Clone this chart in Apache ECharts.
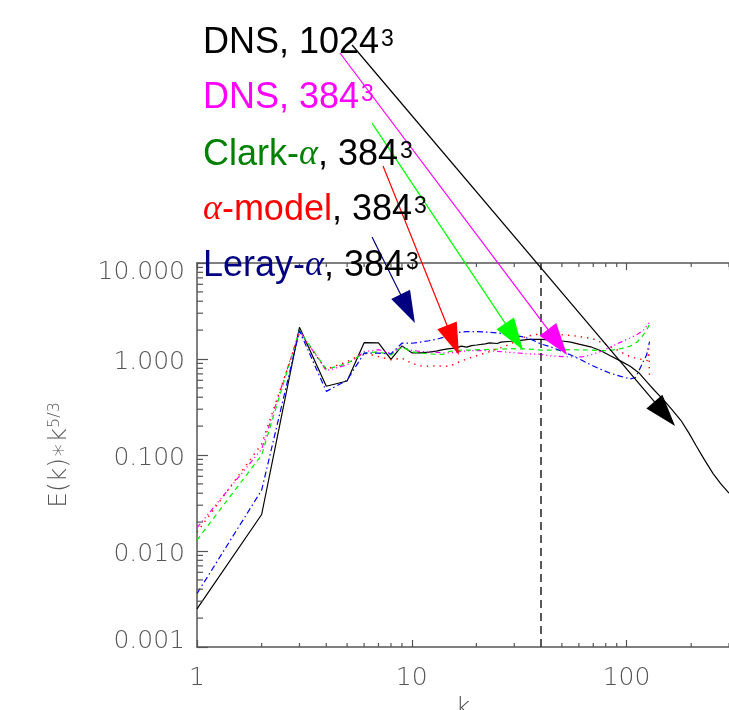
<!DOCTYPE html>
<html><head><meta charset="utf-8">
<script src="https://cdn.jsdelivr.net/npm/echarts@6/dist/echarts.min.js"></script>
<style>html,body{margin:0;padding:0;background:#fff}#c{width:729px;height:710px}</style>
</head><body><div id="c"></div>
<script>
// ---- data (k, E(k)*k^(5/3)) ----
const dns1024K = [1,2,3,4,5,6,7,8,9,10,11,12,13,14,15,16,17,18,19,20,22,23,25,26,29,32,35,40,44,50,55,60,68,76,84,94,104,114,124,135,148,162,179,195,211,230,253,275,300];
const dns1024V = [0.0025,0.024,2.14,0.52,0.59,1.48,1.47,0.99,1.37,1.16,1.16,1.18,1.21,1.25,1.28,1.3,1.36,1.33,1.38,1.40,1.44,1.47,1.45,1.5,1.53,1.56,1.6,1.6,1.58,1.54,1.5,1.43,1.34,1.22,1.08,0.95,0.84,0.72,0.58,0.47,0.38,0.3,0.23,0.17,0.125,0.09,0.064,0.05,0.04];

const dns384K = [1,2,3,4,5,6,7,8,9,10,11,12,13,14,15,17,19,23,29,35,40,44,55,62,68,76,84,94,104,112,120,126,128];
const dns384V = [0.0175,0.115,1.97,0.755,0.87,1.19,1.25,1.15,1.33,1.23,1.2,1.18,1.17,1.16,1.16,1.2,1.22,1.22,1.17,1.13,1.12,1.08,1.05,1.05,1.1,1.2,1.33,1.5,1.66,1.8,2.0,2.3,2.4];

const clarkK = [1,2,3,4,5,6,7,8,9,10,11,12,13,14,15,17,19,23,29,35,40,44,55,68,76,84,94,104,112,119,124,128];
const clarkV = [0.013,0.1,1.97,0.78,0.9,1.15,1.19,1.1,1.33,1.19,1.15,1.13,1.12,1.12,1.2,1.24,1.24,1.26,1.28,1.27,1.24,1.24,1.25,1.24,1.22,1.23,1.28,1.36,1.5,1.75,2.0,2.3];

const alphaK = [1,2,3,4,5,6,7,8,9,10,11,12,13,14,15,16,18,20,23,25,28,31,34,38,45,52,60,70,80,90,100,110,120,126,127,128];
const alphaV = [0.0157,0.13,1.85,0.78,0.94,1.15,1.06,0.98,1.02,0.9,0.85,0.84,0.85,0.84,0.84,0.9,1.0,1.08,1.19,1.27,1.4,1.55,1.72,1.8,1.8,1.78,1.72,1.62,1.42,1.25,1.1,1.02,0.98,0.96,1.28,0.62];

const lerayK = [1,2,3,4,5,6,7,8,9,10,11,12,13,14,15,16,18,20,23,26,29,33,36,40,44,50,55,62,68,76,84,94,104,110,113,118,124,127,128];
const lerayV = [0.0036,0.043,1.97,0.46,0.6,1.15,1.15,1.13,1.46,1.46,1.5,1.55,1.6,1.68,1.8,1.88,1.93,1.93,1.9,1.85,1.78,1.7,1.6,1.43,1.35,1.2,1.1,0.97,0.87,0.78,0.71,0.66,0.62,0.64,0.72,0.88,1.1,1.4,1.52];

// annotation arrows (data coordinates: from label to curve)
const arrowFromK = [5.27, 4.63, 6.53, 7.35, 6.53];
const arrowFromV = [1866, 1540, 287, 102.4, 18.66];
const arrowToK   = [150.6, 47.7, 29.96, 15.56, 9.58];
const arrowToV   = [0.2686, 1.496, 1.707, 1.570, 3.342];

const cutoffK = 40;
const xMinorTicks = [2,3,4,5,6,7,8,9,20,30,40,50,60,70,80,90,200,300];
const yMinorTicks = [0.002,0.003,0.004,0.005,0.006,0.007,0.008,0.009,0.02,0.03,0.04,0.05,0.06,0.07,0.08,0.09,0.2,0.3,0.4,0.5,0.6,0.7,0.8,0.9,2,3,4,5,6,7,8,9];

const X_MIN = 1, X_MAX = 300, Y_MIN = 0.001, Y_MAX = 10;

// ---- build ----
const pairs = (ks, vs) => ks.map((k, i) => [k, vs[i]]);
const AX = '#555';
const tickFont = 'DejaVu Sans';

const tickData = [];
xMinorTicks.forEach(v => { tickData.push([v, Y_MIN, 0]); tickData.push([v, Y_MAX, 1]); });
yMinorTicks.forEach(v => { tickData.push([X_MIN, v, 2]); });

const arrowColors = ['#000000','#ff00ff','#00ff00','#ff0000','#000080'];
const arrowData = arrowFromK.map((k, i) => ({
  coords: [[k, arrowFromV[i]], [arrowToK[i], arrowToV[i]]],
  lineStyle: { color: arrowColors[i] }
}));

const chart = echarts.init(document.getElementById('c'), null, { renderer: 'canvas' });

const tok = (fill, extra) => Object.assign({ fontSize: 36, fontFamily: 'Liberation Sans', fill: fill, color: fill }, extra || {});
const richLegend = {
  k: tok('#000'),
  m: tok('#ff00ff'),
  g: tok('#008000'),
  r: tok('#ff0000'),
  n: tok('#000080'),
  ga: tok('#008000', { fontFamily: 'Liberation Serif', fontStyle: 'italic' }),
  ra: tok('#ff0000', { fontFamily: 'Liberation Serif', fontStyle: 'italic' }),
  na: tok('#000080', { fontFamily: 'Liberation Serif', fontStyle: 'italic' }),
  sk: tok('#000', { fontSize: 23, verticalAlign: 'top', padding: [3, 0, 0, 2] }),
  sm: tok('#ff00ff', { fontSize: 23, verticalAlign: 'top', padding: [3, 0, 0, 2] })
};
const legendTexts = [
  '{k|DNS, 1024}{sk|3}',
  '{m|DNS, 384}{sm|3}',
  '{g|Clark-}{ga|α}{k|, 384}{sk|3}',
  '{ra|α}{r|-model}{k|, 384}{sk|3}',
  '{n|Leray-}{na|α}{k|, 384}{sk|3}'
];
const legendTops = [25, 80, 137, 192, 248];

const yLabelFmt = v => {
  const s = (+v).toFixed(3);
  if (Math.abs(v - Y_MAX) < 1e-9) return '{top|' + s + '}';
  if (Math.abs(v - Y_MIN) < 1e-12) return '{bot|' + s + '}';
  return '{mid|' + s + '}';
};
const lblStyle = { fontSize: 25, fontFamily: tickFont, fontWeight: 200, color: AX };

const option = {
  animation: false,
  backgroundColor: '#fff',
  grid: { left: 197, right: 0, top: 263, bottom: 63, containLabel: false, outerBoundsMode: 'none' },
  xAxis: [
    {
      type: 'log', logBase: 10, min: X_MIN, max: X_MAX, position: 'bottom',
      name: 'k', nameLocation: 'middle', nameGap: 47,
      nameTextStyle: { fontSize: 25, fontFamily: tickFont, fontWeight: 200, color: AX },
      axisLine: { show: true, lineStyle: { color: AX, width: 1.5 } },
      axisTick: { show: true, inside: true, length: 7, lineStyle: { color: AX, width: 1.2 } },
      axisLabel: { show: true, margin: 19, showMaxLabel: false, formatter: v => String(Math.round(v)), ...lblStyle },
      splitLine: { show: false }
    },
    {
      type: 'log', logBase: 10, min: X_MIN, max: X_MAX, position: 'top',
      axisLine: { show: true, lineStyle: { color: AX, width: 1.5 } },
      axisTick: { show: true, inside: true, length: 7, lineStyle: { color: AX, width: 1.2 } },
      axisLabel: { show: false },
      splitLine: { show: false }
    }
  ],
  yAxis: {
    type: 'log', logBase: 10, min: Y_MIN, max: Y_MAX,
    name: '{a|E(k)∗k}{b|5/3}', nameLocation: 'middle', nameGap: 125, nameRotate: 90,
    nameTextStyle: {
      rich: {
        a: { fontSize: 25, fontFamily: tickFont, fontWeight: 200, color: AX },
        b: { fontSize: 16, fontFamily: tickFont, fontWeight: 200, color: AX, verticalAlign: 'top' }
      }
    },
    axisLine: { show: true, lineStyle: { color: AX, width: 1.5 } },
    axisTick: { show: true, inside: true, length: 11, lineStyle: { color: AX, width: 1.2 } },
    axisLabel: {
      show: true, margin: 12, formatter: yLabelFmt,
      rich: {
        top: { ...lblStyle, padding: [18, 0, 0, 0] },
        mid: { ...lblStyle, padding: [6, 0, 0, 0] },
        bot: { ...lblStyle, padding: [0, 0, 12, 0] }
      }
    },
    splitLine: { show: false }
  },
  graphic: legendTexts.map((t, i) => ({
    type: 'text', x: 203, y: legendTops[i], z: 100,
    style: { text: t, rich: richLegend, verticalAlign: 'top', align: 'left', fill: '#000' }
  })),
  series: [
    {
      name: 'DNS, 1024^3', type: 'line', data: pairs(dns1024K, dns1024V), showSymbol: false, symbol: 'none',
      lineStyle: { color: '#000', width: 1.2, type: 'solid' }, z: 2,
      markLine: {
        silent: true, symbol: ['none', 'none'], label: { show: false },
        lineStyle: { color: '#222', width: 1.5, type: [8, 5] },
        data: [{ xAxis: cutoffK }]
      }
    },
    {
      name: 'DNS, 384^3', type: 'line', data: pairs(dns384K, dns384V), showSymbol: false, symbol: 'none',
      lineStyle: { color: '#ff00ff', width: 1.2, type: [5, 3, 1.2, 3, 1.2, 3, 1.2, 3] }, z: 3
    },
    {
      name: 'Clark-alpha, 384^3', type: 'line', data: pairs(clarkK, clarkV), showSymbol: false, symbol: 'none',
      lineStyle: { color: '#00ee00', width: 1.2, type: [5, 4] }, z: 3
    },
    {
      name: 'alpha-model, 384^3', type: 'line', data: pairs(alphaK, alphaV), showSymbol: false, symbol: 'none',
      lineStyle: { color: '#ff0000', width: 1.4, type: [1.4, 5] }, z: 3
    },
    {
      name: 'Leray-alpha, 384^3', type: 'line', data: pairs(lerayK, lerayV), showSymbol: false, symbol: 'none',
      lineStyle: { color: '#0000ff', width: 1.2, type: [6, 3, 1.5, 3] }, z: 3
    },
    {
      type: 'lines', coordinateSystem: 'cartesian2d', clip: false, silent: true, z: 10,
      polyline: false,
      symbol: ['none', 'triangle'], symbolSize: [0, [21, 32]],
      lineStyle: { width: 1.2, opacity: 1, curveness: 0 },
      data: arrowData
    },
    {
      type: 'custom', coordinateSystem: 'cartesian2d', clip: false, silent: true, z: 5,
      data: tickData,
      renderItem: (params, api) => {
        const p = api.coord([api.value(0), api.value(1)]);
        const dir = api.value(2);
        let x2 = p[0], y2 = p[1];
        if (dir === 0) y2 = p[1] - 4;
        else if (dir === 1) y2 = p[1] + 4;
        else x2 = p[0] + 6;
        return { type: 'line', shape: { x1: p[0], y1: p[1], x2: x2, y2: y2 },
                 style: { stroke: AX, lineWidth: 1.2 } };
      }
    }
  ]
};
chart.setOption(option);
</script>
</body></html>
